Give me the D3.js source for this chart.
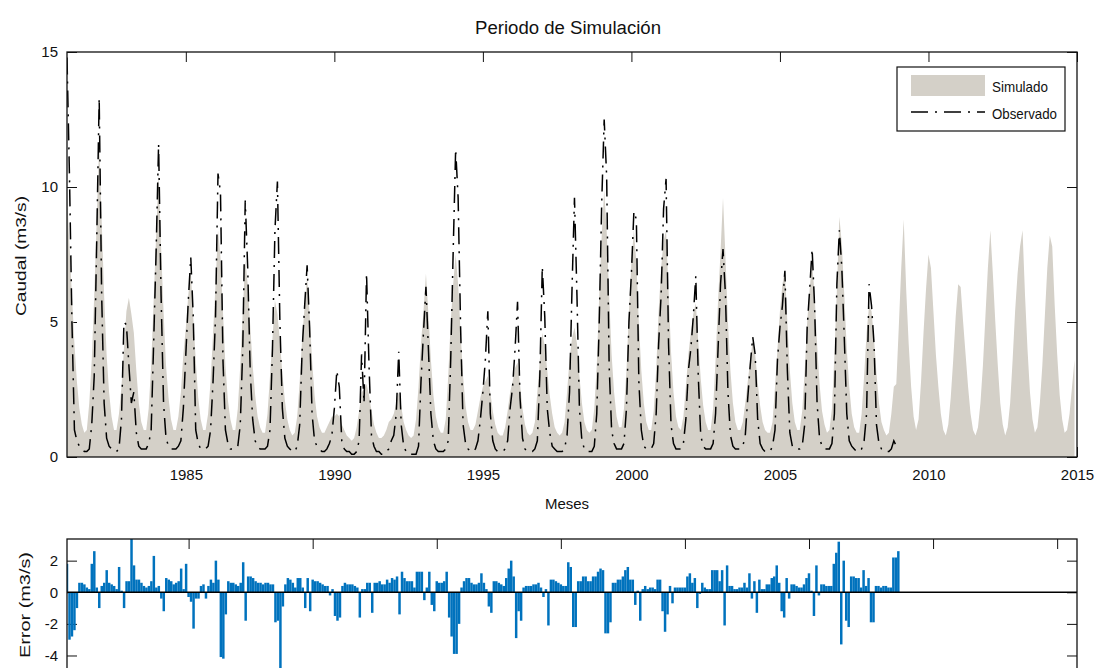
<!DOCTYPE html>
<html><head><meta charset="utf-8">
<script src="https://cdn.jsdelivr.net/npm/d3@7"></script>
<style>
body{margin:0;background:#fff}
svg{display:block}
text{font-family:"Liberation Sans",Arial,Helvetica,sans-serif;fill:#111}
</style>
</head><body>
<svg id="chart" width="1095" height="668"></svg>
<script>
// ---------------- DATA ----------------
const startYear = 1981;
// Simulated monthly flow (m3/s), Jan 1981 - Dec 2014
const simulado = [
 9.8,7.8,6.0,4.2,2.8,1.8,1.2,0.9,1.0,2.0,3.6,6.0,
 8.8,11.6,8.8,6.0,3.8,2.4,1.5,1.0,1.0,1.6,2.6,4.0,
 5.4,5.9,5.3,4.6,3.2,2.0,1.3,1.0,1.0,1.8,3.4,5.8,
 8.2,10.5,7.8,5.4,3.4,2.2,1.4,1.0,1.0,1.5,2.4,3.8,
 4.8,6.0,6.9,5.2,3.6,2.2,1.4,1.0,1.0,1.6,2.8,4.6,
 6.4,8.4,7.4,5.4,3.4,2.1,1.4,1.0,1.0,1.8,3.4,5.4,
 7.3,6.4,4.9,3.4,2.3,1.5,1.1,0.9,0.9,1.6,3.0,4.4,
 5.8,5.3,4.3,3.1,2.1,1.4,1.0,0.8,0.9,1.5,2.8,4.4,
 5.6,6.7,5.3,3.6,2.3,1.5,1.1,0.9,0.9,1.1,1.3,1.5,
 1.5,1.6,1.5,1.2,1.0,0.8,0.7,0.6,0.7,1.1,1.7,2.4,
 2.5,2.7,2.3,1.7,1.2,0.9,0.7,0.7,0.8,1.0,1.3,1.4,
 1.6,2.0,2.4,1.9,1.3,1.0,0.8,0.7,0.8,1.4,2.6,4.2,
 5.4,6.8,5.3,3.6,2.3,1.5,1.1,0.9,0.9,1.4,3.0,5.0,
 6.4,7.5,6.4,4.6,3.0,1.9,1.3,1.0,1.0,1.2,1.7,2.2,
 2.6,2.8,3.0,2.4,1.7,1.2,0.9,0.8,0.8,1.1,1.7,2.4,
 2.8,3.3,3.5,2.7,1.8,1.2,0.9,0.8,0.9,1.3,2.4,3.6,
 4.6,4.1,3.2,2.3,1.6,1.1,0.9,0.8,0.9,1.3,2.4,3.6,
 4.4,4.8,4.2,3.0,2.0,1.3,1.0,0.9,1.0,1.8,3.4,6.0,
 8.2,9.9,8.4,6.0,3.8,2.4,1.5,1.1,1.1,1.8,3.2,5.4,
 7.2,8.4,7.2,5.0,3.2,2.0,1.3,1.0,1.0,1.7,3.2,5.4,
 7.0,8.0,8.4,6.2,3.9,2.4,1.5,1.1,1.0,1.5,2.6,3.8,
 4.6,5.3,5.7,4.3,2.9,1.9,1.3,1.0,1.0,1.8,3.6,5.8,
 7.6,9.6,7.4,5.0,3.2,2.0,1.3,1.0,1.0,1.3,2.0,2.8,
 3.6,4.3,3.8,2.8,1.9,1.3,1.0,0.9,0.9,1.3,2.6,4.0,
 5.4,6.4,6.9,5.0,3.2,2.0,1.3,1.0,1.0,1.7,3.2,5.0,
 6.2,7.2,6.0,4.2,2.7,1.7,1.2,0.9,1.0,1.8,3.8,6.2,
 8.9,7.9,6.0,4.0,2.6,1.6,1.1,0.9,0.9,1.6,3.0,4.6,
 5.6,5.4,4.4,3.1,2.0,1.3,1.0,0.8,0.9,1.6,2.6,2.7,
 4.8,7.0,8.8,6.2,4.2,2.6,1.5,1.0,1.4,2.8,4.6,6.2,
 7.5,7.0,5.4,3.8,2.6,1.6,1.0,0.8,1.2,2.2,3.6,5.2,
 6.4,6.3,5.0,3.8,2.6,1.6,1.0,0.8,1.1,2.0,3.4,5.2,
 7.0,8.4,6.8,5.0,3.4,2.0,1.2,0.8,1.1,2.0,3.6,5.4,
 6.8,7.8,8.4,6.0,4.0,2.4,1.4,0.9,1.1,2.0,3.4,5.2,
 7.0,8.2,7.8,5.6,3.8,2.3,1.4,0.9,1.0,1.6,2.6,3.6
];
// Observed monthly flow (m3/s), Jan 1981 - Dec 2008
const observado = [
 14.8,10.4,5.0,1.0,0.6,0.4,0.3,0.2,0.2,0.3,1.2,3.0,
 8.0,13.3,6.0,2.0,0.7,0.4,0.3,0.2,0.2,0.3,1.4,5.0,
 4.9,3.4,2.0,2.4,0.9,0.4,0.3,0.3,0.3,0.5,1.0,4.2,
 7.6,11.6,6.0,2.0,0.7,0.4,0.3,0.3,0.3,0.4,0.6,1.8,
 3.8,5.8,7.4,5.2,1.0,0.5,0.3,0.3,0.3,0.4,1.0,2.8,
 5.2,10.5,9.8,3.6,1.0,0.5,0.3,0.3,0.3,0.4,1.2,4.0,
 9.5,7.0,3.2,1.4,0.6,0.4,0.3,0.3,0.3,0.4,1.0,4.0,
 8.4,10.2,5.0,1.8,0.7,0.4,0.3,0.2,0.2,0.4,1.2,4.0,
 5.6,7.1,4.8,1.6,0.6,0.4,0.3,0.2,0.2,0.3,0.5,0.8,
 1.8,3.2,2.6,0.6,0.3,0.2,0.2,0.1,0.1,0.2,0.6,3.8,
 2.0,6.8,3.4,0.8,0.4,0.2,0.2,0.1,0.1,0.2,0.3,0.6,
 0.8,1.6,3.9,1.2,0.4,0.2,0.2,0.1,0.1,0.1,0.4,2.8,
 4.6,6.3,4.0,1.6,0.6,0.3,0.2,0.2,0.2,0.3,0.6,3.6,
 7.6,11.4,9.6,4.8,1.2,0.5,0.3,0.2,0.2,0.3,0.6,1.4,
 2.4,3.6,5.4,1.6,0.6,0.3,0.2,0.2,0.2,0.3,0.6,1.8,
 2.6,4.0,5.75,2.2,0.7,0.3,0.2,0.2,0.2,0.3,0.6,3.0,
 7.05,5.2,1.8,0.9,0.4,0.3,0.2,0.2,0.2,0.3,0.8,2.4,
 6.2,9.6,6.0,1.8,0.6,0.3,0.2,0.2,0.2,0.4,1.6,5.0,
 9.4,12.5,10.4,3.4,1.0,0.5,0.3,0.3,0.3,0.5,1.8,5.0,
 6.8,9.1,8.8,2.8,1.0,0.4,0.3,0.3,0.3,0.5,1.6,4.2,
 6.0,9.2,10.3,4.2,1.2,0.5,0.3,0.3,0.3,0.5,1.4,3.2,
 4.0,5.2,6.7,3.0,0.8,0.4,0.3,0.3,0.3,0.5,1.6,4.0,
 6.4,7.7,6.0,2.4,0.8,0.4,0.3,0.3,0.3,0.4,0.8,2.2,
 3.4,4.45,3.8,1.4,0.5,0.3,0.2,0.2,0.2,0.4,1.0,3.6,
 4.8,5.6,6.9,3.2,0.9,0.4,0.3,0.3,0.3,0.4,1.2,4.8,
 6.2,7.7,5.6,2.0,0.7,0.4,0.3,0.3,0.3,0.5,1.6,6.4,
 8.4,7.0,4.4,1.6,0.6,0.4,0.3,0.2,0.2,0.3,0.6,1.6,
 6.4,5.6,4.2,1.2,0.5,0.3,0.2,0.2,0.2,0.3,0.6,0.4
];
// Error (m3/s) per month index 1..336
const errorMensual = [
 1.8,-3.0,-2.8,-2.4,-1.0,0.6,0.6,0.5,0.3,0.2,1.8,2.6,
 0.3,-1.0,0.4,0.6,1.4,0.6,0.5,0.4,0.2,1.6,0.1,-1.0,
 0.7,0.7,3.4,1.7,0.8,0.8,0.6,0.4,0.3,0.4,0.7,2.3,
 0.3,0.4,-0.4,-1.2,0.9,0.8,0.7,0.5,0.6,0.7,1.5,0.2,
 1.8,-0.3,-0.6,-2.3,-0.4,-0.4,0.4,0.5,-0.4,0.4,0.8,0.6,
 2.0,0.8,-4.1,-4.2,-1.4,0.7,0.6,0.6,0.5,0.4,0.6,1.9,
 -1.8,1.0,1.0,0.9,0.7,0.6,0.6,0.5,0.6,0.6,0.5,0.5,
 -1.9,-1.8,-5.6,-0.9,0.5,0.9,0.8,0.6,0.3,0.9,0.9,0.3,
 -1.0,0.9,-1.2,0.8,0.7,0.7,0.6,0.5,0.4,0.4,-0.2,0.2,
 -1.5,-1.8,-1.6,0.4,0.6,0.5,0.5,0.5,0.4,0.3,-1.6,0.2,
 0.2,0.6,0.6,-1.3,0.6,0.6,0.7,0.5,0.5,0.8,0.6,0.9,
 0.8,1.0,-1.4,1.3,0.9,0.7,0.7,0.7,0.3,1.3,1.3,1.3,
 -0.5,0.3,1.3,-0.8,-1.2,0.7,0.6,0.6,0.7,1.3,-1.6,-2.8,
 -3.9,-3.9,-2.0,0.3,0.7,0.9,0.9,0.6,0.5,0.5,0.6,1.2,
 0.6,0.2,-0.9,-1.3,0.7,0.7,0.6,0.5,0.4,0.9,1.5,2.0,
 1.0,-2.9,-1.2,-1.8,0.3,0.4,0.4,0.4,0.5,0.5,0.6,0.3,
 -0.3,0.2,-2.1,0.8,0.8,0.7,0.6,0.5,0.4,0.4,1.9,1.6,
 -2.2,-2.2,0.7,0.7,1.0,1.0,0.7,0.7,1.0,1.0,1.3,1.5,
 1.4,-2.6,-2.6,-1.9,0.6,0.6,0.8,0.8,1.0,1.4,1.6,0.8,
 0.8,-0.8,0.1,-1.8,0.2,0.4,0.2,0.3,0.3,0.2,0.8,0.8,
 -1.2,-2.5,-1.4,0.4,-0.7,0.3,0.3,0.3,0.3,0.3,1.0,1.2,
 0.6,0.9,-1.0,-0.1,0.6,0.3,0.2,0.2,1.4,1.4,1.4,0.7,
 1.4,-2.1,1.7,0.4,0.4,0.2,0.2,0.3,0.3,0.6,0.3,1.2,
 -0.4,0.7,-1.3,0.8,0.2,0.2,0.5,0.5,0.9,1.0,1.7,0.6,
 -1.2,-1.6,0.9,-0.4,0.5,0.5,0.4,0.3,0.3,0.5,0.9,1.2,
 0.1,-1.5,1.7,-0.2,0.5,0.5,0.4,0.4,0.4,1.8,2.5,3.2,
 -3.3,2.0,-1.8,-2.2,1.0,1.0,0.9,0.9,0.3,1.4,0.4,0.9,
 -1.9,-1.9,0.4,0.4,0.3,0.4,0.4,0.3,0.3,2.2,2.2,2.6
];
const xTicksTop = [1985,1990,1995,2000,2005,2010,2015];
const yTicksTop = [0,5,10,15];
const xTicksBottom = [50,100,150,200,250,300,350,400];
const yTicksBottom = [-4,-2,0,2];
const titulo = "Periodo de Simulación";
const xLabel = "Meses";
const yLabelTop = "Caudal (m3/s)";
const yLabelBottom = "Error (m3/s)";
const legendLabels = ["Simulado","Observado"];

// ---------------- LAYOUT ----------------
const L = 67, R = 1077;
const topY0 = 52, topY1 = 457;
const botY0 = 539;
const colSim = "#d4d0c8", colErr = "#0072bd", axisCol = "#111";
const dashObs = "17,7,2,7";
const svg = d3.select("#chart");

// ---------------- TOP PLOT ----------------
const xTop = d3.scaleLinear().domain([1981, 2015]).range([L, R]);
const yTop = d3.scaleLinear().domain([0, 15]).range([topY1, topY0]);
const tMonth = i => startYear + i / 12;

svg.append("clipPath").attr("id","clipTop").append("rect")
  .attr("x",L).attr("y",topY0).attr("width",R-L).attr("height",topY1-topY0);

const gTop = svg.append("g");
const tickLen = 10;
const styleText = g => g.selectAll("text").attr("font-size",15).attr("fill","#111")
  .style("font-family","'Liberation Sans',Arial,sans-serif");
gTop.append("g").attr("transform",`translate(0,${topY1})`)
  .call(d3.axisBottom(xTop).tickValues(xTicksTop).tickSizeInner(-tickLen).tickSizeOuter(0).tickPadding(12).tickFormat(d3.format("d")))
  .call(g=>g.select(".domain").remove()).call(styleText)
  .call(g=>g.selectAll("line").attr("stroke",axisCol));
gTop.append("g").attr("transform",`translate(0,${topY0})`)
  .call(d3.axisTop(xTop).tickValues(xTicksTop).tickSizeInner(-tickLen).tickSizeOuter(0).tickFormat(""))
  .call(g=>g.select(".domain").remove())
  .call(g=>g.selectAll("line").attr("stroke",axisCol));
gTop.append("g").attr("transform",`translate(${L},0)`)
  .call(d3.axisLeft(yTop).tickValues(yTicksTop).tickSizeInner(-tickLen).tickSizeOuter(0).tickPadding(9).tickFormat(d=>String(d)))
  .call(g=>g.select(".domain").remove()).call(styleText)
  .call(g=>g.selectAll("line").attr("stroke",axisCol));
gTop.append("g").attr("transform",`translate(${R},0)`)
  .call(d3.axisRight(yTop).tickValues(yTicksTop).tickSizeInner(-tickLen).tickSizeOuter(0).tickFormat(""))
  .call(g=>g.select(".domain").remove())
  .call(g=>g.selectAll("line").attr("stroke",axisCol));

const areaSim = d3.area()
  .x((d,i)=>xTop(tMonth(i))).y0(yTop(0)).y1(d=>yTop(d));
gTop.append("path").datum(simulado)
  .attr("clip-path","url(#clipTop)")
  .attr("d",areaSim).attr("fill",colSim).attr("stroke","none");

const lineObs = d3.line().x((d,i)=>xTop(tMonth(i))).y(d=>yTop(d));
gTop.append("path").datum(observado)
  .attr("clip-path","url(#clipTop)")
  .attr("d",lineObs).attr("fill","none").attr("stroke","#000")
  .attr("stroke-width",1.5).attr("stroke-dasharray",dashObs);

gTop.append("rect").attr("x",L).attr("y",topY0).attr("width",R-L).attr("height",topY1-topY0)
  .attr("fill","none").attr("stroke",axisCol).attr("stroke-width",1.3);

// title & labels
svg.append("text").attr("x",568).attr("y",34).attr("text-anchor","middle")
  .attr("font-size",18).attr("textLength",186).attr("lengthAdjust","spacingAndGlyphs").text(titulo);
svg.append("text").attr("x",567).attr("y",509).attr("text-anchor","middle")
  .attr("font-size",15).text(xLabel);
svg.append("text").attr("transform",`translate(26,256) rotate(-90)`).attr("text-anchor","middle")
  .attr("font-size",15).attr("textLength",120).attr("lengthAdjust","spacingAndGlyphs").text(yLabelTop);

// legend
const lg = svg.append("g");
lg.append("rect").attr("x",897).attr("y",67).attr("width",168).attr("height",64)
  .attr("fill","#fff").attr("stroke",axisCol).attr("stroke-width",1.2);
lg.append("rect").attr("x",911).attr("y",75).attr("width",74).attr("height",21).attr("fill",colSim);
lg.append("line").attr("x1",911).attr("x2",985).attr("y1",112).attr("y2",112)
  .attr("stroke","#000").attr("stroke-width",1.5).attr("stroke-dasharray",dashObs);
lg.append("text").attr("x",992).attr("y",92).attr("font-size",15)
  .attr("textLength",56).attr("lengthAdjust","spacingAndGlyphs").text(legendLabels[0]);
lg.append("text").attr("x",992).attr("y",119).attr("font-size",15)
  .attr("textLength",65).attr("lengthAdjust","spacingAndGlyphs").text(legendLabels[1]);

// ---------------- BOTTOM PLOT ----------------
const xBot = d3.scaleLinear().domain([1, 408]).range([L, R]);
const yBot = d3.scaleLinear().domain([-5.5, 3.37]).range([592.3 + 5.5*15.8, botY0]);
const botY1 = yBot(-5.5);
svg.append("clipPath").attr("id","clipBot").append("rect")
  .attr("x",L).attr("y",botY0).attr("width",R-L).attr("height",botY1-botY0);

const gBot = svg.append("g");
gBot.append("g").attr("transform",`translate(0,${botY0})`)
  .call(d3.axisTop(xBot).tickValues(xTicksBottom).tickSizeInner(-tickLen).tickSizeOuter(0).tickFormat(""))
  .call(g=>g.select(".domain").remove())
  .call(g=>g.selectAll("line").attr("stroke",axisCol));
gBot.append("g").attr("transform",`translate(0,${botY1})`)
  .call(d3.axisBottom(xBot).tickValues(xTicksBottom).tickSizeInner(-tickLen).tickSizeOuter(0).tickFormat(""))
  .call(g=>g.select(".domain").remove())
  .call(g=>g.selectAll("line").attr("stroke",axisCol));
gBot.append("g").attr("transform",`translate(${L},0)`)
  .call(d3.axisLeft(yBot).tickValues(yTicksBottom).tickSizeInner(-tickLen).tickSizeOuter(0).tickPadding(9).tickFormat(d=>String(d)))
  .call(g=>g.select(".domain").remove()).call(styleText)
  .call(g=>g.selectAll("line").attr("stroke",axisCol));
gBot.append("g").attr("transform",`translate(${R},0)`)
  .call(d3.axisRight(yBot).tickValues(yTicksBottom).tickSizeInner(-tickLen).tickSizeOuter(0).tickFormat(""))
  .call(g=>g.select(".domain").remove())
  .call(g=>g.selectAll("line").attr("stroke",axisCol));

const step = xBot(2) - xBot(1);
const bw = step * 1.0;
gBot.append("g").attr("clip-path","url(#clipBot)")
  .selectAll("rect").data(errorMensual).join("rect")
  .attr("x",(d,i)=>xBot(i+1)-bw/2).attr("width",bw)
  .attr("y",d=>yBot(Math.max(0,d))).attr("height",d=>Math.abs(yBot(d)-yBot(0)))
  .attr("fill",colErr);
gBot.append("line").attr("x1",L).attr("x2",R).attr("y1",yBot(0)).attr("y2",yBot(0))
  .attr("stroke","#000").attr("stroke-width",1.3);
gBot.append("rect").attr("x",L).attr("y",botY0).attr("width",R-L).attr("height",botY1-botY0)
  .attr("fill","none").attr("stroke",axisCol).attr("stroke-width",1.3);
svg.append("text").attr("transform",`translate(30,605) rotate(-90)`).attr("text-anchor","middle")
  .attr("font-size",15).attr("textLength",106).attr("lengthAdjust","spacingAndGlyphs").text(yLabelBottom);
</script>
</body></html>
